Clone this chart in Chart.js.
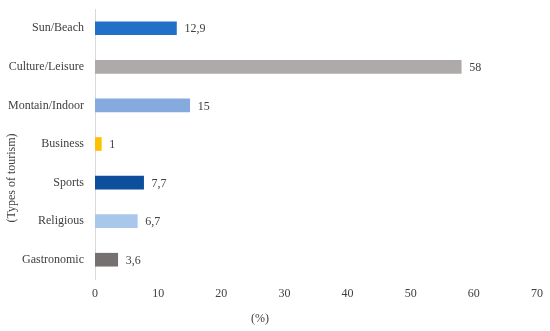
<!DOCTYPE html>
<html><head><meta charset="utf-8">
<script src="https://cdn.jsdelivr.net/npm/chart.js@4"></script>
<style>html,body{margin:0;padding:0;background:#fff}#wrap{width:550px;height:331px}</style>
</head><body><div id="wrap"><canvas id="c"></canvas></div>
<script>
const categories = ["Sun/Beach","Culture/Leisure","Montain/Indoor","Business","Sports","Religious","Gastronomic"];
const values = [12.9, 58, 15, 1, 7.7, 6.7, 3.6];
const valueLabels = ["12,9","58","15","1","7,7","6,7","3,6"];
const colors = ["#1f70c6","#aeaaaa","#84aade","#ffc000","#0d4f9c","#a9c7ea","#767171"];
const xTicks = [0,10,20,30,40,50,60,70];
const xTitle = "(%)";
const yTitle = "(Types of tourism)";
const FONT = "'Liberation Serif', serif";
const TXT = "#404040";

const textPlugin = {
  id: 'texts',
  afterDatasetsDraw(chart) {
    const ctx = chart.ctx;
    const meta = chart.getDatasetMeta(0);
    ctx.save();
    ctx.font = "12px " + FONT;
    ctx.fillStyle = TXT;
    ctx.textBaseline = 'middle';
    ctx.textAlign = 'left';
    meta.data.forEach((bar, i) => {
      ctx.fillText(valueLabels[i], bar.x + 8, bar.y + 1);
    });
    ctx.textAlign = 'center';
    ctx.fillText(xTitle, 260, 319);
    ctx.translate(12, 178);
    ctx.rotate(-Math.PI/2);
    ctx.fillText(yTitle, 0, 0);
    ctx.restore();
  }
};

new Chart(document.getElementById('c'), {
  type: 'bar',
  data: { labels: categories, datasets: [{ data: values, backgroundColor: colors, barThickness: 13, borderWidth: 0 }] },
  options: {
    indexAxis: 'y',
    responsive: true, maintainAspectRatio: false, animation: false,
    layout: { padding: { left: 0, right: 13, top: 9, bottom: 0 }, autoPadding: false },
    plugins: { legend: { display: false }, tooltip: { enabled: false } },
    scales: {
      x: {
        min: 0, max: 70,
        afterBuildTicks: s => { s.ticks = xTicks.map(v => ({ value: v })); },
        grid: { display: false, drawTicks: false },
        border: { display: false },
        ticks: { padding: 8, color: TXT, font: { family: FONT, size: 12 } },
        afterFit: s => { s.height = 52; s.paddingLeft = 0; s.paddingRight = 0; }
      },
      y: {
        grid: { display: false, drawTicks: false },
        border: { display: true, color: "#d9d9d9", width: 1 },
        ticks: { padding: 11, color: TXT, font: { family: FONT, size: 12 } },
        afterFit: s => { s.width = 95; s.paddingTop = 0; s.paddingBottom = 0; }
      }
    }
  },
  plugins: [textPlugin]
});
</script></body></html>
